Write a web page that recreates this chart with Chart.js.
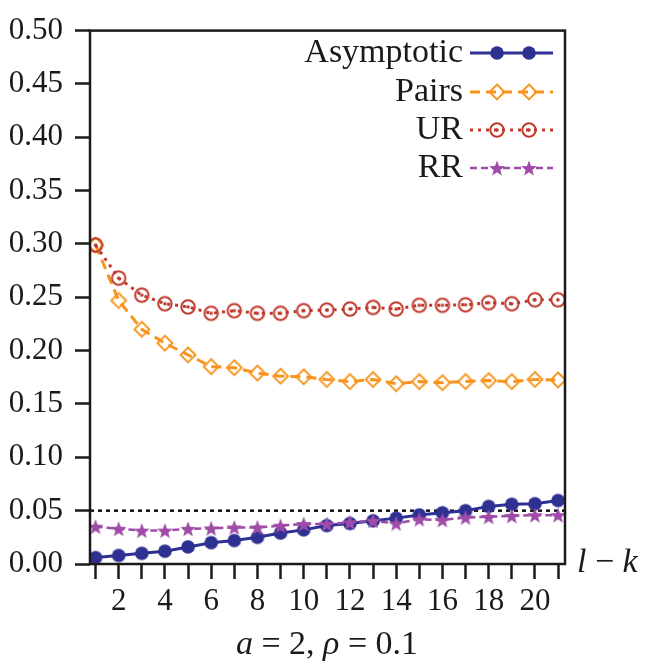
<!DOCTYPE html>
<html>
<head>
<meta charset="utf-8">
<script src="https://cdn.jsdelivr.net/npm/chart.js@4.4.1/dist/chart.umd.min.js"></script>
<style>
  html, body { margin: 0; padding: 0; background: #fff; }
</style>
</head>
<body>
<canvas id="chart" width="645" height="667"></canvas>
<script>
// data (x = l - k)
const steps = [1, 2, 3, 4, 5, 6, 7, 8, 9, 10, 11, 12, 13, 14, 15, 16, 17, 18, 19, 20, 21];
const asymptotic = [0.006, 0.008, 0.010, 0.012, 0.016, 0.020, 0.022, 0.025, 0.029, 0.032, 0.036,
                    0.038, 0.0405, 0.043, 0.046, 0.048, 0.050, 0.054, 0.056, 0.0565, 0.0595];
const pairs = [0.299, 0.247, 0.220, 0.207, 0.196, 0.185, 0.184, 0.179, 0.176, 0.1755, 0.173,
               0.171, 0.173, 0.169, 0.171, 0.170, 0.171, 0.172, 0.171, 0.173, 0.1725];
const ur = [0.299, 0.268, 0.252, 0.244, 0.241, 0.235, 0.2375, 0.235, 0.235, 0.2375, 0.238,
            0.239, 0.2405, 0.239, 0.2425, 0.2425, 0.243, 0.245, 0.244, 0.2477, 0.2477];
const rr = [0.035, 0.033, 0.0313, 0.0313, 0.033, 0.0334, 0.0343, 0.0343, 0.0359, 0.0375, 0.0375,
            0.039, 0.0405, 0.038, 0.042, 0.0412, 0.0436, 0.0442, 0.0451, 0.0458, 0.0458];
const yTicks = [0, 0.05, 0.10, 0.15, 0.20, 0.25, 0.30, 0.35, 0.40, 0.45, 0.50];
const refLevel = 0.05;

const FONT = "'Liberation Serif', 'DejaVu Serif', serif";
const BLUE = '#2e3192';
const ORANGE = '#f7941d';
const RED = '#c0392b';
const PURPLE = '#9f4ca8';

// marker images
function markerCanvas(draw) {
    const c = document.createElement('canvas');
    c.width = 20; c.height = 20;
    draw(c.getContext('2d'));
    return c;
}
const dotMarker = markerCanvas(g => {
    g.fillStyle = BLUE;
    g.beginPath(); g.arc(10, 10, 6.8, 0, Math.PI * 2); g.fill();
});
const diamondMarker = markerCanvas(g => {
    g.strokeStyle = ORANGE; g.lineWidth = 1.9;
    g.beginPath();
    g.moveTo(10, 2.5); g.lineTo(17.5, 10); g.lineTo(10, 17.5); g.lineTo(2.5, 10); g.closePath();
    g.stroke();
});
const ringMarker = markerCanvas(g => {
    g.strokeStyle = RED; g.lineWidth = 2;
    g.beginPath(); g.arc(10, 10, 6.7, 0, Math.PI * 2); g.stroke();
    g.fillStyle = RED;
    g.beginPath(); g.arc(10, 10, 1.8, 0, Math.PI * 2); g.fill();
});
const starMarker = markerCanvas(g => {
    g.fillStyle = PURPLE;
    g.beginPath();
    for (let i = 0; i < 10; i++) {
        const r = i % 2 === 0 ? 8.3 : 3.5;
        const a = -Math.PI / 2 + i * Math.PI / 5;
        const px = 10 + r * Math.cos(a), py = 10.8 + r * Math.sin(a);
        if (i === 0) g.moveTo(px, py); else g.lineTo(px, py);
    }
    g.closePath();
    g.fill();
});

const series = [
    { label: 'Asymptotic', values: asymptotic, color: BLUE, dash: [], width: 3, marker: dotMarker, order: 3 },
    { label: 'Pairs', values: pairs, color: ORANGE, dash: [10, 6], width: 3, marker: diamondMarker, order: 2 },
    { label: 'UR', values: ur, color: RED, dash: [3, 5], width: 3, marker: ringMarker, order: 1 },
    { label: 'RR', values: rr, color: PURPLE, dash: [7, 4], width: 2.5, marker: starMarker, order: 0 }
];

// dotted reference line under the data
const refLinePlugin = {
    id: 'refLine',
    beforeDatasetsDraw(chart) {
        const { ctx, chartArea, scales } = chart;
        const y = scales.y.getPixelForValue(refLevel);
        ctx.save();
        ctx.strokeStyle = '#111';
        ctx.lineWidth = 2.5;
        ctx.setLineDash([4, 4]);
        ctx.beginPath();
        ctx.moveTo(chartArea.left, y);
        ctx.lineTo(chartArea.right, y);
        ctx.stroke();
        ctx.restore();
    }
};

// frame, legend and axis texts
function drawRuns(ctx, runs, x, y, align) {
    let total = 0;
    runs.forEach(r => { ctx.font = r[1]; total += ctx.measureText(r[0]).width; });
    let cx = align === 'center' ? x - total / 2 : x;
    ctx.textAlign = 'left';
    ctx.textBaseline = 'middle';
    runs.forEach(r => {
        ctx.font = r[1];
        ctx.fillText(r[0], cx, y);
        cx += ctx.measureText(r[0]).width;
    });
}

const decorPlugin = {
    id: 'decor',
    afterDraw(chart) {
        const { ctx, chartArea } = chart;
        ctx.save();
        ctx.strokeStyle = '#1a1a1a';
        ctx.lineWidth = 2.5;
        ctx.strokeRect(chartArea.left, chartArea.top, chartArea.right - chartArea.left, chartArea.bottom - chartArea.top);

        // legend
        const rowsY = [53, 92, 130, 168];
        series.forEach((s, i) => {
            const y = rowsY[i];
            ctx.fillStyle = '#1a1a1a';
            ctx.font = '34px ' + FONT;
            ctx.textAlign = 'right';
            ctx.textBaseline = 'middle';
            ctx.fillText(s.label, 463, y);
            ctx.strokeStyle = s.color;
            ctx.lineWidth = s.width;
            ctx.setLineDash(s.dash);
            ctx.beginPath();
            ctx.moveTo(470, y);
            ctx.lineTo(553, y);
            ctx.stroke();
            ctx.setLineDash([]);
            [497, 529].forEach(mx => ctx.drawImage(s.marker, mx - 10, y - 10));
        });

        ctx.fillStyle = '#1a1a1a';
        const it = 'italic 34px ' + FONT;
        const rm = '34px ' + FONT;
        drawRuns(ctx, [['a', it], [' = 2, ', rm], ['ρ', it], [' = 0.1', rm]], 327, 645, 'center');
        drawRuns(ctx, [['l', it], [' − ', rm], ['k', it]], 577, 563, 'left');
        ctx.restore();
    }
};

new Chart(document.getElementById('chart'), {
    type: 'line',
    data: {
        datasets: series.map(s => ({
            label: s.label,
            data: steps.map((x, i) => ({ x: x, y: s.values[i] })),
            borderColor: s.color,
            borderWidth: s.width,
            borderDash: s.dash,
            backgroundColor: 'rgba(0,0,0,0)',
            pointStyle: s.marker,
            pointRadius: 7,
            tension: 0,
            fill: false,
            order: s.order
        }))
    },
    options: {
        responsive: false,
        animation: false,
        events: [],
        layout: { padding: { left: 0, right: 80, top: 21, bottom: 0 } },
        plugins: {
            legend: { display: false },
            tooltip: { enabled: false }
        },
        scales: {
            x: {
                type: 'linear',
                min: 0.76,
                max: 21.3,
                afterFit: scale => { scale.height = 103; },
                afterBuildTicks: scale => { scale.ticks = steps.map(v => ({ value: v })); },
                border: { display: false },
                grid: {
                    drawOnChartArea: false,
                    drawTicks: true,
                    tickLength: 15,
                    tickWidth: 2.5,
                    tickColor: '#1a1a1a'
                },
                ticks: {
                    autoSkip: false,
                    maxRotation: 0,
                    padding: 4,
                    color: '#1a1a1a',
                    font: { family: FONT, size: 31 },
                    callback: v => (v % 2 === 0 ? String(v) : '')
                }
            },
            y: {
                min: 0,
                max: 0.5,
                afterFit: scale => { scale.width = 90; },
                afterBuildTicks: scale => { scale.ticks = yTicks.map(v => ({ value: v })); },
                border: { display: false },
                grid: {
                    drawOnChartArea: false,
                    drawTicks: true,
                    tickLength: 15,
                    tickWidth: 2.5,
                    tickColor: '#1a1a1a'
                },
                ticks: {
                    padding: 12,
                    color: '#1a1a1a',
                    font: { family: FONT, size: 31 },
                    callback: v => v.toFixed(2)
                }
            }
        }
    },
    plugins: [refLinePlugin, decorPlugin]
});
</script>
</body>
</html>
